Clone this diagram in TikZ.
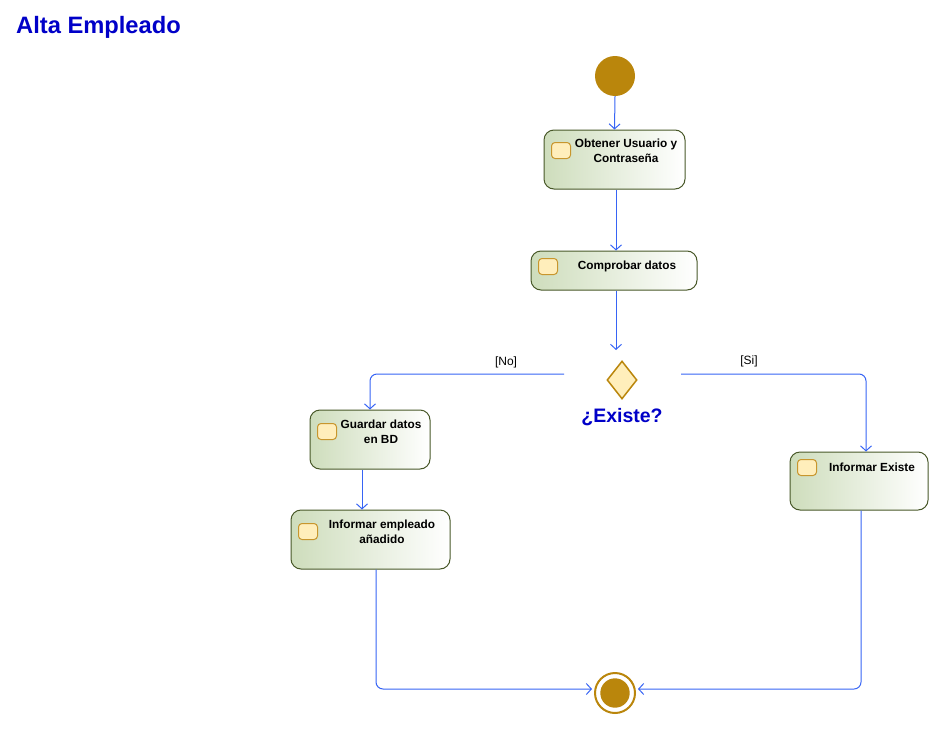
\documentclass[tikz,border=0pt]{standalone}
\usepackage{fontspec}
\setmainfont{Liberation Sans}
\usetikzlibrary{shapes.geometric,arrows.meta}
\definecolor{gold}{RGB}{186,134,12}
\definecolor{flowblue}{RGB}{55,100,245}
\definecolor{boxborder}{RGB}{72,88,40}
\definecolor{boxgreen}{RGB}{206,221,188}
\definecolor{iconfill}{RGB}{255,238,187}
\definecolor{iconborder}{RGB}{200,150,45}
\definecolor{titleblue}{RGB}{0,0,200}
\tikzset{
  actbox/.style={draw=boxborder, line width=1pt, rounded corners=10pt, left color=boxgreen, right color=white, inner sep=0pt},
  acticon/.style={draw=iconborder, line width=1pt, rounded corners=3.5pt, fill=iconfill, minimum width=19pt, minimum height=16pt, inner sep=0pt},
  acttext/.style={font=\bfseries\fontsize{11.8}{15}\selectfont, align=center, inner sep=0pt},
  flow/.style={draw=flowblue, line width=1pt, -{Straight Barb[length=5pt,width=11pt,line width=1pt]}},
  guard/.style={font=\fontsize{12}{14}\selectfont, inner sep=0pt},
}
\begin{document}
\begin{tikzpicture}[x=1pt,y=-1pt]
\useasboundingbox[fill=white] (0,0) rectangle (939,728);

% title
\node[anchor=base west, font=\bfseries\fontsize{23.7}{28}\selectfont, text=titleblue, inner sep=0pt] (title) at (16,33) {Alta Empleado};

% start
\node[circle, fill=gold, minimum size=40pt, inner sep=0pt] (s) at (615,76) {};

% boxes
\node[actbox, minimum width=141pt, minimum height=59pt] (b1) at (614.5,159.5) {};
\node[acticon, anchor=north west] (i1) at (551,142) {};
\node[acttext] (t1) at (626,150.5) {Obtener Usuario y\\Contraseña};

\node[actbox, minimum width=166pt, minimum height=39pt] (b2) at (614,270.5) {};
\node[acticon, anchor=north west] (i2) at (538,258) {};
\node[acttext] (t2) at (627,266) {Comprobar datos};

\node[actbox, minimum width=120pt, minimum height=59pt] (b3) at (370,439.5) {};
\node[acticon, anchor=north west] (i3) at (317,423) {};
\node[acttext] (t3) at (381,431.5) {Guardar datos\\en BD};

\node[actbox, minimum width=159pt, minimum height=59pt] (b4) at (370.5,539.5) {};
\node[acticon, anchor=north west] (i4) at (298,523) {};
\node[acttext] (t4) at (382,531.5) {Informar empleado\\añadido};

\node[actbox, minimum width=138pt, minimum height=58pt] (b5) at (859,481) {};
\node[acticon, anchor=north west] (i5) at (797,459) {};
\node[acttext] (t5) at (872,467) {Informar Existe};

% decision
\node[diamond, draw=gold, line width=1.5pt, fill=iconfill, minimum width=30pt, minimum height=38pt, inner sep=0pt] (d) at (622,380) {};
\node[font=\bfseries\fontsize{19.5}{23}\selectfont, text=titleblue, inner sep=0pt] (dl) at (622,417) {¿Existe?};
\coordinate (dleft) at (564,374);
\coordinate (dright) at (681,374);
\coordinate (dtop) at (616,350);

% end
\node[circle, draw=gold, line width=2pt, minimum size=40pt, inner sep=0pt] (e) at (615,693) {};
\fill[gold] (e.center) circle (14.7);

% connectors
\draw[flow] (s.south) -- (b1.north);
\draw[flow] ([xshift=1.5pt]b1.south) -- ([xshift=1.5pt]b1.south |- b2.north);
\draw[flow] (b2.south -| dtop) -- (dtop);
\draw[flow, rounded corners=7pt] (dleft) -| (b3.north);
\draw[flow, rounded corners=7pt] (dright) -| ([xshift=7pt]b5.north);
\draw[flow] ([xshift=-8pt]b3.south) -- ([xshift=-8pt]b3.south |- b4.north);
\draw[flow, rounded corners=7pt] ([xshift=5.5pt]b4.south) |- ([yshift=4pt,xshift=-2pt]e.west);
\draw[flow, rounded corners=7pt] ([xshift=2pt]b5.south) |- ([yshift=4pt,xshift=2pt]e.east);

% guards
\node[guard] (gno) at (506,362) {[No]};
\node[guard] (gsi) at (749,361) {[Si]};
\end{tikzpicture}
\end{document}
